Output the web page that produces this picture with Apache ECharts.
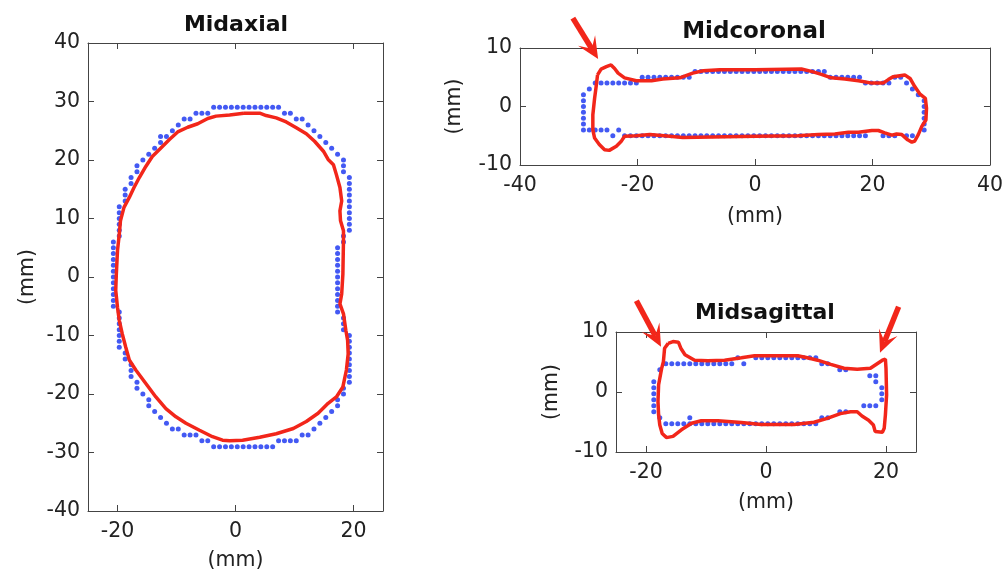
<!DOCTYPE html>
<html><head><meta charset="utf-8">
<script src="https://cdn.jsdelivr.net/npm/echarts@6.0.0/dist/echarts.min.js"></script>
<style>html,body{margin:0;padding:0;background:#fff}#c{width:1006px;height:576px}</style>
</head><body><div id="c"></div>
<script>
// ---- tick labels ----
const axialTicksX = [-20, 0, 20];
const axialTicksY = [-40, -30, -20, -10, 0, 10, 20, 30, 40];
const coronalTicksX = [-40, -20, 0, 20, 40];
const coronalTicksY = [-10, 0, 10];
const sagittalTicksX = [-20, 0, 20];
const sagittalTicksY = [-10, 0, 10];
const panelTitles = ['Midaxial', 'Midcoronal', 'Midsagittal'];
const axisUnit = '(mm)';

// ---- Midaxial: blue voxel boundary dots [x, y] (mm) ----
const axialBlue = [
  [-3.7,29],[-2.7,29],[-1.7,29],[-0.7,29],[0.3,29],[1.3,29],[2.3,29],[3.3,29],[4.3,29],[5.3,29],[6.3,29],[7.3,29],
  [-6.7,28],[-5.7,28],[-4.7,28],[8.3,28],[9.3,28],
  [-8.7,27],[-7.7,27],[10.3,27],[11.3,27],
  [-9.7,26],[12.3,26],
  [-10.7,25],[13.3,25],
  [-12.7,24],[-11.7,24],[14.3,24],
  [-12.7,23],[15.3,23],
  [-13.7,22],[16.3,22],
  [-14.7,21],[17.3,21],
  [-15.7,20],[18.3,20],
  [-16.7,19],[18.3,19],
  [-16.7,18],[18.3,18],
  [-17.7,17],[19.3,17],
  [-17.7,16],[19.3,16],
  [-18.7,15],[19.3,15],
  [-18.7,14],[19.3,14],
  [-18.7,13],[19.3,13],
  [-19.7,12],[19.3,12],
  [-19.7,11],[19.3,11],
  [-19.7,10],[19.3,10],
  [-19.7,9],[19.3,9],
  [-19.7,8],[19.3,8],
  [-19.7,7],[18.3,7],
  [-20.7,6],[18.3,6],
  [-20.7,5],[17.3,5],
  [-20.7,4],[17.3,4],
  [-20.7,3],[17.3,3],
  [-20.7,2],[17.3,2],
  [-20.7,1],[17.3,1],
  [-20.7,0],[17.3,0],
  [-20.7,-1],[17.3,-1],
  [-20.7,-2],[17.3,-2],
  [-20.7,-3],[17.3,-3],
  [-20.7,-4],[17.3,-4],
  [-20.7,-5],[17.3,-5],
  [-19.7,-6],[17.3,-6],
  [-19.7,-7],[18.3,-7],
  [-19.7,-8],[18.3,-8],
  [-19.7,-9],[18.3,-9],
  [-19.7,-10],[19.3,-10],
  [-19.7,-11],[19.3,-11],
  [-19.7,-12],[19.3,-12],
  [-18.7,-13],[19.3,-13],
  [-18.7,-14],[19.3,-14],
  [-17.7,-15],[19.3,-15],
  [-17.7,-16],[19.3,-16],
  [-17.7,-17],[19.3,-17],
  [-16.7,-18],[19.3,-18],
  [-16.7,-19],[18.3,-19],
  [-15.7,-20],[18.3,-20],
  [-14.7,-21],[17.3,-21],
  [-14.7,-22],[17.3,-22],
  [-13.7,-23],[16.3,-23],
  [-12.7,-24],[15.3,-24],
  [-11.7,-25],[14.3,-25],
  [-10.7,-26],[-9.7,-26],[13.3,-26],
  [-8.7,-27],[-7.7,-27],[-6.7,-27],[11.3,-27],[12.3,-27],
  [-5.7,-28],[-4.7,-28],[7.3,-28],[8.3,-28],[9.3,-28],[10.3,-28],
  [-3.7,-29],[-2.7,-29],[-1.7,-29],[-0.7,-29],[0.3,-29],[1.3,-29],[2.3,-29],[3.3,-29],[4.3,-29],[5.3,-29],[6.3,-29]
];

// ---- Midaxial: red contour [x, y] (mm) ----
const axialRed = [
  [1.4,28.0],[4.1,28.0],[5.2,27.6],[6.9,27.2],[8.6,26.5],[10.3,25.5],[12.0,24.5],[13.4,23.2],[14.9,21.5],
  [15.7,20.1],[16.6,19.2],[17.1,17.5],[17.7,15.3],[18.0,13.0],[17.7,11.3],[17.8,9.6],[18.3,7.9],[18.3,6.2],
  [18.2,0.5],[18.0,-2.9],[17.7,-4.6],[18.3,-6.3],[18.7,-9.1],[19.0,-10.8],[19.1,-13.1],[18.8,-15.9],
  [18.2,-18.8],[17.1,-20.5],[15.7,-21.6],[14.0,-23.3],[12.0,-24.7],[9.8,-25.9],[6.9,-26.8],[4.1,-27.4],
  [1.2,-27.9],[-1.0,-28.0],[-2.2,-27.9],[-3.9,-27.3],[-6.1,-26.2],[-8.4,-25.0],[-10.1,-23.9],[-11.8,-22.5],
  [-13.5,-20.5],[-15.2,-18.2],[-16.9,-15.9],[-18.0,-14.2],[-18.6,-12.0],[-19.2,-9.7],[-19.7,-7.4],
  [-20.0,-5.2],[-20.3,-2.3],[-20.2,0.5],[-20.0,4.5],[-19.7,7.3],[-19.5,9.6],[-18.9,11.9],[-18.0,13.6],
  [-17.2,15.3],[-16.3,17.0],[-15.2,18.9],[-14.1,20.6],[-12.6,22.1],[-11.2,23.5],[-9.8,24.8],[-8.1,25.6],
  [-6.4,26.2],[-4.7,27.1],[-3.3,27.5],[-1.0,27.7],[1.4,28.0]
];

// ---- Midcoronal: blue dots ----
const coronalBlue = [
  [-10.2,6],[-9.2,6],[-8.2,6],[-7.2,6],[-6.2,6],[-5.2,6],[-4.2,6],[-3.2,6],[-2.2,6],[-1.2,6],[-0.2,6],
  [0.8,6],[1.8,6],[2.8,6],[3.8,6],[4.8,6],[5.8,6],[6.8,6],[7.8,6],[8.8,6],[9.8,6],[10.8,6],[11.8,6],
  [-19.2,5],[-18.2,5],[-17.2,5],[-16.2,5],[-15.2,5],[-14.2,5],[-13.2,5],[-12.2,5],[-11.2,5],
  [12.8,5],[13.8,5],[14.8,5],[15.8,5],[16.8,5],[17.8,5],[23.8,5],[24.8,5],
  [-27.2,4],[-26.2,4],[-25.2,4],[-24.2,4],[-23.2,4],[-22.2,4],[-21.2,4],[-20.2,4],
  [18.8,4],[19.8,4],[20.8,4],[21.8,4],[22.8,4],[25.8,4],
  [-28.2,3],[26.8,3],
  [-29.2,2],[27.8,2],
  [-29.2,1],[28.8,1],
  [-29.2,0],[28.8,0],
  [-29.2,-1],[28.8,-1],
  [-29.2,-2],[28.8,-2],
  [-29.2,-3],[28.8,-3],
  [-29.2,-4],[-28.2,-4],[-27.2,-4],[-26.2,-4],[-25.2,-4],[-23.2,-4],[28.8,-4],
  [-24.2,-5],[-22.2,-5],[-21.2,-5],[-20.2,-5],[-19.2,-5],[-18.2,-5],[-17.2,-5],[-16.2,-5],[-15.2,-5],
  [-14.2,-5],[-13.2,-5],[-12.2,-5],[-11.2,-5],[-10.2,-5],[-9.2,-5],[-8.2,-5],[-7.2,-5],[-6.2,-5],
  [-5.2,-5],[-4.2,-5],[-3.2,-5],[-2.2,-5],[-1.2,-5],[-0.2,-5],[0.8,-5],[1.8,-5],[2.8,-5],[3.8,-5],
  [4.8,-5],[5.8,-5],[6.8,-5],[7.8,-5],[8.8,-5],[9.8,-5],[10.8,-5],[11.8,-5],[12.8,-5],[13.8,-5],
  [14.8,-5],[15.8,-5],[16.8,-5],[17.8,-5],[18.8,-5],[21.8,-5],[22.8,-5],[23.8,-5],[25.8,-5],[26.8,-5]
];

// ---- Midcoronal: red contour ----
const coronalRed = [
  [-26.8,5.4],[-26.2,6.4],[-25.3,6.8],[-24.5,7.1],[-23.9,6.5],[-23.3,5.7],[-22.2,4.9],[-20.2,4.4],
  [-17.6,4.4],[-15.7,4.7],[-12.8,4.9],[-10.6,5.7],[-8.8,6.1],[-6.0,6.3],[0,6.3],[7.9,6.4],[9.6,6.0],
  [11.3,5.5],[13.0,4.9],[15.3,4.7],[17.6,4.4],[19.9,4.0],[21.8,4.0],[22.7,4.6],[23.5,5.1],[25.5,5.4],
  [26.4,4.8],[27.2,3.4],[28.1,2.1],[29.0,1.4],[29.2,-0.3],[29.1,-2.3],[28.4,-3.4],[27.8,-4.8],
  [27.2,-5.9],[26.7,-6.1],[26.0,-5.7],[25.0,-4.8],[24.1,-4.7],[23.3,-4.9],[22.1,-4.5],[21.0,-4.1],
  [19.9,-4.1],[17.6,-4.4],[15.9,-4.4],[13.6,-4.7],[10.8,-4.8],[7.3,-5.0],[0,-5.1],[-12.3,-5.3],
  [-14.5,-5.1],[-17.9,-4.8],[-20.2,-5.0],[-22.2,-5.1],[-22.8,-6.0],[-23.6,-6.8],[-24.8,-7.5],
  [-25.6,-7.4],[-26.5,-6.5],[-27.3,-5.4],[-27.6,-4.0],[-27.6,-1.4],[-27.3,1.4],[-27.0,3.7],[-26.8,5.4]
];

// ---- Midsagittal: blue dots ----
const sagittalBlue = [
  [-4.7,5.7],[-1.7,5.7],[-0.7,5.7],[0.3,5.7],[1.3,5.7],[2.3,5.7],[3.3,5.7],[4.3,5.7],[5.3,5.7],[6.3,5.7],[7.3,5.7],[8.3,5.7],
  [-16.7,4.7],[-15.7,4.7],[-14.7,4.7],[-13.7,4.7],[-12.7,4.7],[-11.7,4.7],[-10.7,4.7],[-9.7,4.7],
  [-8.7,4.7],[-7.7,4.7],[-6.7,4.7],[-5.7,4.7],[-3.7,4.7],[9.3,4.7],[10.3,4.7],
  [-17.7,3.7],[12.3,3.7],[13.3,3.7],
  [17.3,2.7],[18.3,2.7],
  [-18.7,1.7],[18.3,1.7],
  [-18.7,0.7],[19.3,0.7],
  [-18.7,-0.3],[19.3,-0.3],
  [-18.7,-1.3],[19.3,-1.3],
  [-18.7,-2.3],[16.3,-2.3],[17.3,-2.3],[18.3,-2.3],
  [-18.7,-3.3],[12.3,-3.3],[13.3,-3.3],
  [-17.7,-4.3],[-12.7,-4.3],[9.3,-4.3],[10.3,-4.3],
  [-16.7,-5.3],[-15.7,-5.3],[-14.7,-5.3],[-13.7,-5.3],[-12.7,-5.3],[-11.7,-5.3],[-10.7,-5.3],[-9.7,-5.3],
  [-8.7,-5.3],[-7.7,-5.3],[-6.7,-5.3],[-5.7,-5.3],[-4.7,-5.3],[-3.7,-5.3],[-2.7,-5.3],[-1.7,-5.3],
  [-0.7,-5.3],[0.3,-5.3],[1.3,-5.3],[2.3,-5.3],[3.3,-5.3],[4.3,-5.3],[5.3,-5.3],[6.3,-5.3],[7.3,-5.3],[8.3,-5.3]
];

// ---- Midsagittal: red contour ----
const sagittalRed = [
  [-16.3,8.1],[-15.5,8.4],[-14.6,8.3],[-14.2,7.3],[-13.5,6.2],[-11.9,5.3],[-9.7,5.2],[-6.9,5.3],
  [-4.1,5.7],[-1.9,6.05],[0.8,6.05],[5.3,6.05],[6.9,5.7],[8.6,5.3],[10.8,4.6],[13.0,3.95],[15.2,3.8],
  [17.4,3.95],[19.4,5.3],[19.9,5.5],[20.0,3.95],[20.1,-0.5],[19.9,-3.8],[19.7,-6.05],[19.4,-6.7],
  [18.2,-6.6],[17.9,-5.5],[17.1,-4.7],[16.0,-4.0],[15.2,-3.3],[14.1,-3.3],[12.4,-3.6],[10.2,-4.4],
  [8.0,-5.05],[4.7,-5.4],[-0.8,-5.4],[-4.1,-5.1],[-8.0,-4.8],[-10.8,-4.8],[-12.4,-5.2],[-14.1,-6.3],
  [-15.5,-7.4],[-16.6,-7.6],[-17.3,-6.9],[-17.7,-5.5],[-17.9,-3.8],[-18.0,-1.6],[-17.9,1.2],
  [-17.4,3.9],[-17.1,5.05],[-16.9,7.3],[-16.3,8.1]
];

// ---- annotation arrows [tailX, tailY, tipX, tipY] (mm, panel coordinates) ----
const coronalArrows = [[-31.0, 15.1, -26.7, 8.1]];
const sagittalArrows = [[-21.6, 15.2, -17.5, 7.55], [22.1, 14.2, 19.0, 6.55]];

// ---- styling ----
const RED = '#f2261a';
const BLUE = '#1430f0';
const AX = '#444444';
const FONT = 'DejaVu Sans';
const FS = 20.5;

function xAx(gi, min, max, ticks, pos, labeled, nameGap) {
  return {
    type: 'value', gridIndex: gi, min: min, max: max, position: pos,
    axisLine: { show: true, onZero: false, lineStyle: { color: AX, width: 1 } },
    axisTick: { show: true, inside: true, length: 6, customValues: ticks, lineStyle: { color: AX, width: 1 } },
    axisLabel: { show: labeled, customValues: ticks, margin: 10, fontSize: FS, fontFamily: FONT, color: '#222' },
    splitLine: { show: false },
    name: labeled ? axisUnit : '', nameLocation: 'middle', nameGap: nameGap,
    nameTextStyle: { fontSize: FS, fontFamily: FONT, color: '#222' }
  };
}
function yAx(gi, min, max, ticks, pos, labeled, nameGap) {
  return {
    type: 'value', gridIndex: gi, min: min, max: max, position: pos,
    axisLine: { show: true, onZero: false, lineStyle: { color: AX, width: 1 } },
    axisTick: { show: true, inside: true, length: 6, customValues: ticks, lineStyle: { color: AX, width: 1 } },
    axisLabel: { show: labeled, customValues: ticks, margin: 8, fontSize: FS, fontFamily: FONT, color: '#222' },
    splitLine: { show: false },
    name: labeled ? axisUnit : '', nameLocation: 'middle', nameGap: nameGap, nameRotate: 90,
    nameTextStyle: { fontSize: FS, fontFamily: FONT, color: '#222' }
  };
}

function arrowSeries(xi, yi, data) {
  return {
    type: 'custom', xAxisIndex: xi, yAxisIndex: yi, clip: false, z: 10,
    data: data,
    renderItem: function (params, api) {
      const p0 = api.coord([api.value(0), api.value(1)]);
      const p1 = api.coord([api.value(2), api.value(3)]);
      const dx = p1[0] - p0[0], dy = p1[1] - p0[1];
      const L = Math.hypot(dx, dy);
      const ux = dx / L, uy = dy / L;
      const hl = 22, hw = 10;
      const bx = p1[0] - ux * hl, by = p1[1] - uy * hl;
      const nx = p1[0] - ux * hl * 0.55, ny = p1[1] - uy * hl * 0.55;
      return {
        type: 'group', children: [
          { type: 'line', shape: { x1: p0[0], y1: p0[1], x2: nx, y2: ny }, style: { stroke: RED, lineWidth: 5.5 } },
          { type: 'polygon', shape: { points: [[p1[0], p1[1]], [bx - uy * hw, by + ux * hw], [nx, ny], [bx + uy * hw, by - ux * hw]] }, style: { fill: RED } }
        ]
      };
    }
  };
}

function dots(xi, yi, data) {
  return { type: 'scatter', xAxisIndex: xi, yAxisIndex: yi, data: data, symbol: 'circle', symbolSize: 5,
    itemStyle: { color: BLUE }, z: 2, silent: true };
}
function contour(xi, yi, data) {
  return { type: 'line', xAxisIndex: xi, yAxisIndex: yi, data: data, showSymbol: false, symbol: 'none',
    lineStyle: { color: RED, width: 3.5 }, z: 3, silent: true, smooth: false };
}

const chart = echarts.init(document.getElementById('c'), null, { renderer: 'canvas' });
chart.setOption({
  animation: false,
  backgroundColor: '#fff',
  grid: [
    { left: 88, top: 43, width: 295, height: 470 },
    { left: 520, top: 48, width: 470, height: 117 },
    { left: 616, top: 332, width: 300, height: 120 }
  ],
  xAxis: [
    xAx(0, -25, 25, axialTicksX, 'bottom', true, 39),
    xAx(0, -25, 25, axialTicksX, 'top', false, 0),
    xAx(1, -40, 40, coronalTicksX, 'bottom', true, 41),
    xAx(1, -40, 40, coronalTicksX, 'top', false, 0),
    xAx(2, -25, 25, sagittalTicksX, 'bottom', true, 40),
    xAx(2, -25, 25, sagittalTicksX, 'top', false, 0)
  ],
  yAxis: [
    yAx(0, -40, 40, axialTicksY, 'left', true, 50),
    yAx(0, -40, 40, axialTicksY, 'right', false, 0),
    yAx(1, -10, 10, coronalTicksY, 'left', true, 55),
    yAx(1, -10, 10, coronalTicksY, 'right', false, 0),
    yAx(2, -10, 10, sagittalTicksY, 'left', true, 54),
    yAx(2, -10, 10, sagittalTicksY, 'right', false, 0)
  ],
  graphic: [
    { type: 'text', x: 236, y: 25, style: { text: panelTitles[0], align: 'center', verticalAlign: 'middle', font: 'bold 22px "DejaVu Sans"', fill: '#111' } },
    { type: 'text', x: 754, y: 32, style: { text: panelTitles[1], align: 'center', verticalAlign: 'middle', font: 'bold 23px "DejaVu Sans"', fill: '#111' } },
    { type: 'text', x: 765, y: 313, style: { text: panelTitles[2], align: 'center', verticalAlign: 'middle', font: 'bold 22px "DejaVu Sans"', fill: '#111' } }
  ],
  series: [
    dots(0, 0, axialBlue),
    contour(0, 0, axialRed),
    dots(2, 2, coronalBlue),
    contour(2, 2, coronalRed),
    dots(4, 4, sagittalBlue),
    contour(4, 4, sagittalRed),
    arrowSeries(2, 2, coronalArrows),
    arrowSeries(4, 4, sagittalArrows)
  ]
});
</script></body></html>
